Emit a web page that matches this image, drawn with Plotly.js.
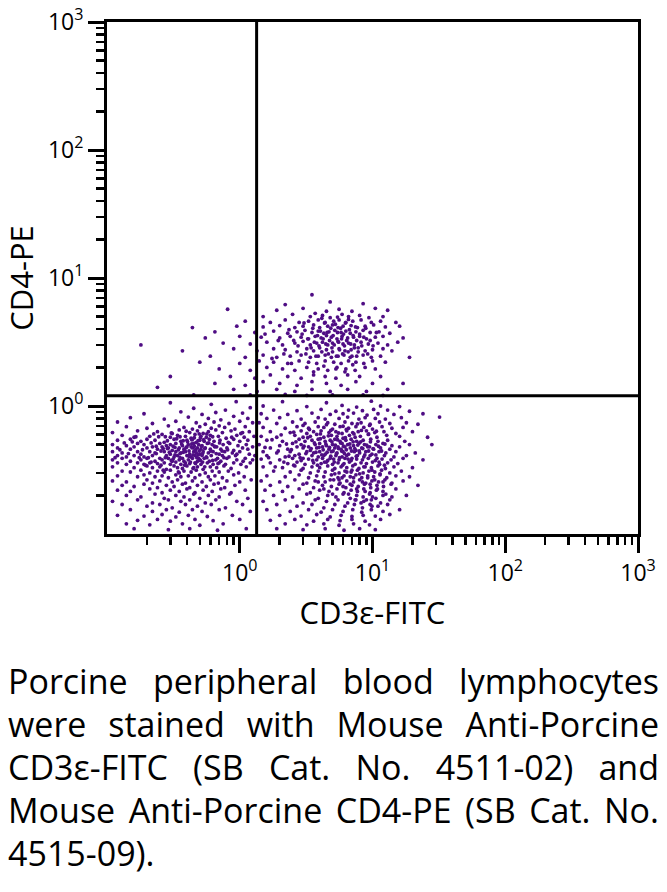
<!DOCTYPE html>
<html>
<head>
<meta charset="utf-8">
<script src="https://cdn.plot.ly/plotly-3.0.1.min.js"></script>
<style>
html,body{margin:0;padding:0;background:#fff;}
#chart{position:absolute;left:0;top:0;width:667px;height:640px;}
#caption{position:absolute;left:8px;top:660px;width:651px;font-family:'Open Sans',sans-serif;font-size:34px;line-height:43px;color:#000;}
#caption .j{text-align:justify;text-align-last:justify;}
#caption .l{text-align:left;}
</style>
</head>
<body>
<div id="chart"></div>
<div id="caption">
<div class="j">Porcine peripheral blood lymphocytes</div>
<div class="j">were stained with Mouse Anti-Porcine</div>
<div class="j">CD3ε-FITC (SB Cat. No. 4511-02) and</div>
<div class="j">Mouse Anti-Porcine CD4-PE (SB Cat. No.</div>
<div class="l">4515-09).</div>
</div>
<script>
// Axis titles and ticks
const xTitle = 'CD3ε-FITC';
const yTitle = 'CD4-PE';
const tickVals = [1, 10, 100, 1000];
const tickText = ['10<sup>0</sup>', '10<sup>1</sup>', '10<sup>2</sup>', '10<sup>3</sup>'];
// Quadrant gate positions
const gateCD3 = 1.34;
const gateCD4 = 1.2;

// Population CD3- CD4- : [CD3 FITC, CD4 PE]
const popNegNeg = [
[0.3,1.06],[0.61,1.03],[0.94,1.08],
[0.45,0.96],[0.78,0.93],[1.2,0.97],
[0.19,0.87],[0.36,0.9],[0.52,0.86],[0.66,0.89],[1.05,0.88],
[0.15,0.81],[0.27,0.79],[0.41,0.82],[0.58,0.8],[0.72,0.78],[0.9,0.83],[1.15,0.8],
[0.12,0.75],[0.22,0.73],[0.33,0.76],[0.47,0.74],[0.55,0.72],[0.64,0.75],[0.83,0.73],[1.0,0.76],[1.25,0.74],
[0.14,0.69],[0.2,0.67],[0.29,0.7],[0.38,0.68],[0.44,0.66],[0.5,0.69],[0.61,0.67],[0.7,0.7],[0.77,0.68],[0.92,0.66],[1.1,0.69],
[0.11,0.62],[0.17,0.64],[0.24,0.63],[0.31,0.61],[0.35,0.65],[0.42,0.62],[0.48,0.64],[0.53,0.61],[0.58,0.63],[0.66,0.65],[0.74,0.62],[0.86,0.64],[1.02,0.61],[1.18,0.63],
[0.13,0.59],[0.16,0.57],[0.21,0.58],[0.26,0.6],[0.3,0.57],[0.34,0.59],[0.39,0.58],[0.43,0.56],[0.46,0.6],[0.51,0.58],[0.56,0.57],[0.6,0.59],[0.69,0.58],[0.79,0.56],[0.95,0.59],[1.08,0.57],[1.28,0.58],
[0.12,0.54],[0.15,0.55],[0.18,0.53],[0.2,0.55],[0.23,0.54],[0.27,0.52],[0.32,0.55],[0.36,0.53],[0.4,0.54],[0.44,0.55],[0.47,0.52],[0.5,0.54],[0.54,0.53],[0.59,0.55],[0.64,0.53],[0.71,0.54],[0.82,0.52],[0.9,0.55],[1.0,0.53],[1.15,0.54],
[0.11,0.5],[0.14,0.49],[0.17,0.51],[0.19,0.5],[0.22,0.48],[0.25,0.51],[0.28,0.49],[0.3,0.5],[0.33,0.51],[0.37,0.49],[0.41,0.5],[0.43,0.48],[0.45,0.51],[0.49,0.5],[0.52,0.49],[0.57,0.51],[0.62,0.5],[0.67,0.48],[0.75,0.5],[0.84,0.51],[0.97,0.49],[1.12,0.5],[1.25,0.48],
[0.12,0.47],[0.15,0.46],[0.16,0.48],[0.2,0.47],[0.24,0.46],[0.26,0.48],[0.29,0.47],[0.31,0.45],[0.35,0.47],[0.38,0.46],[0.4,0.48],[0.44,0.47],[0.46,0.45],[0.48,0.47],[0.51,0.46],[0.55,0.47],[0.6,0.46],[0.65,0.48],[0.72,0.46],[0.8,0.47],[0.9,0.45],[1.05,0.47],
[0.11,0.44],[0.13,0.43],[0.17,0.44],[0.18,0.42],[0.21,0.44],[0.23,0.43],[0.27,0.44],[0.3,0.42],[0.33,0.44],[0.36,0.43],[0.39,0.44],[0.42,0.42],[0.45,0.44],[0.47,0.43],[0.5,0.42],[0.53,0.44],[0.58,0.43],[0.63,0.44],[0.7,0.42],[0.77,0.44],[0.88,0.43],[1.0,0.44],[1.18,0.42],
[0.12,0.41],[0.14,0.4],[0.16,0.41],[0.19,0.4],[0.22,0.41],[0.25,0.39],[0.28,0.41],[0.32,0.4],[0.34,0.41],[0.37,0.39],[0.4,0.41],[0.43,0.4],[0.46,0.41],[0.49,0.39],[0.52,0.41],[0.56,0.4],[0.61,0.41],[0.68,0.39],[0.74,0.41],[0.83,0.4],[0.93,0.41],[1.1,0.39],[1.3,0.41],
[0.11,0.38],[0.13,0.39],[0.15,0.37],[0.18,0.38],[0.2,0.39],[0.23,0.37],[0.26,0.38],[0.29,0.39],[0.31,0.37],[0.35,0.38],[0.38,0.37],[0.41,0.38],[0.44,0.39],[0.48,0.37],[0.5,0.38],[0.54,0.39],[0.59,0.37],[0.66,0.38],[0.72,0.37],[0.8,0.39],[0.95,0.38],[1.06,0.37],
[0.12,0.36],[0.14,0.35],[0.17,0.36],[0.19,0.35],[0.21,0.36],[0.24,0.355],[0.27,0.36],[0.3,0.35],[0.33,0.365],[0.36,0.35],[0.39,0.36],[0.42,0.355],[0.46,0.36],[0.51,0.35],[0.57,0.36],[0.63,0.35],[0.7,0.36],[0.78,0.35],[0.9,0.36],[1.02,0.35],[1.2,0.36],
[0.11,0.335],[0.16,0.33],[0.2,0.34],[0.22,0.33],[0.25,0.335],[0.28,0.32],[0.32,0.34],[0.34,0.33],[0.37,0.325],[0.4,0.34],[0.45,0.33],[0.48,0.335],[0.53,0.32],[0.6,0.335],[0.67,0.33],[0.76,0.34],[0.86,0.325],[1.12,0.335],
[0.13,0.31],[0.15,0.305],[0.18,0.315],[0.21,0.3],[0.24,0.31],[0.27,0.305],[0.3,0.315],[0.35,0.3],[0.38,0.31],[0.43,0.305],[0.47,0.315],[0.55,0.3],[0.62,0.31],[0.7,0.305],[0.82,0.31],[0.98,0.3],
[0.12,0.285],[0.17,0.28],[0.19,0.29],[0.23,0.28],[0.26,0.285],[0.29,0.275],[0.33,0.29],[0.36,0.28],[0.41,0.285],[0.46,0.275],[0.5,0.29],[0.58,0.28],[0.65,0.285],[0.74,0.275],[0.9,0.29],[1.08,0.28],
[0.11,0.26],[0.14,0.255],[0.2,0.265],[0.22,0.25],[0.25,0.26],[0.31,0.255],[0.34,0.265],[0.39,0.25],[0.44,0.26],[0.52,0.255],[0.6,0.265],[0.69,0.25],[0.8,0.26],[1.0,0.255],[1.22,0.265],
[0.13,0.24],[0.16,0.235],[0.19,0.245],[0.24,0.23],[0.28,0.24],[0.32,0.235],[0.37,0.245],[0.42,0.23],[0.48,0.24],[0.56,0.235],[0.64,0.245],[0.77,0.23],[0.92,0.24],
[0.12,0.22],[0.15,0.215],[0.21,0.225],[0.26,0.21],[0.3,0.22],[0.35,0.215],[0.4,0.225],[0.46,0.21],[0.53,0.22],[0.62,0.215],[0.72,0.225],[0.86,0.21],[1.1,0.22],
[0.14,0.2],[0.18,0.195],[0.23,0.205],[0.27,0.19],[0.33,0.2],[0.38,0.195],[0.45,0.205],[0.5,0.19],[0.58,0.2],[0.7,0.195],[0.84,0.205],[1.15,0.19],
[0.11,0.18],[0.17,0.185],[0.22,0.175],[0.29,0.185],[0.36,0.18],[0.42,0.185],[0.55,0.175],[0.66,0.185],[0.95,0.18],
[0.13,0.17],[0.2,0.165],[0.25,0.17],[0.31,0.16],[0.39,0.17],[0.48,0.165],[0.61,0.17],[0.78,0.16],[1.05,0.17],
[0.15,0.155],[0.22,0.15],[0.28,0.155],[0.35,0.148],[0.44,0.155],[0.52,0.15],[0.7,0.155],[1.2,0.15],
[0.12,0.14],[0.19,0.138],[0.26,0.142],[0.33,0.136],[0.41,0.14],[0.57,0.137],[0.88,0.14],
[0.17,0.128],[0.24,0.13],[0.3,0.126],[0.46,0.13],[0.63,0.127],[1.0,0.13],
[0.14,0.12],[0.21,0.118],[0.37,0.12],[0.5,0.117],[0.75,0.12],
[0.16,0.11],[0.29,0.108],[0.42,0.11],[0.68,0.107],[1.12,0.11],
[0.155,0.525],[0.185,0.455],[0.205,0.395],[0.215,0.515],[0.235,0.425],[0.245,0.575],[0.255,0.345],[0.265,0.465],[0.275,0.395],[0.285,0.535],
[0.295,0.435],[0.305,0.375],[0.315,0.485],[0.325,0.415],[0.335,0.555],[0.345,0.455],[0.355,0.395],[0.365,0.505],[0.375,0.435],[0.385,0.345],
[0.395,0.475],[0.405,0.525],[0.415,0.445],[0.425,0.365],[0.435,0.505],[0.445,0.415],[0.455,0.565],[0.465,0.455],[0.475,0.395],[0.485,0.535],
[0.495,0.445],[0.505,0.375],[0.515,0.485],[0.525,0.425],[0.535,0.545],[0.545,0.465],[0.565,0.395],[0.585,0.515],[0.605,0.445],[0.625,0.375],
[0.645,0.485],[0.175,0.395],[0.165,0.575],[0.145,0.425],[0.135,0.515],[0.195,0.345],[0.225,0.605],[0.265,0.315],[0.305,0.615],[0.345,0.305],
[0.395,0.635],[0.445,0.325],[0.495,0.605],[0.545,0.335],[0.665,0.425],[0.705,0.515],[0.735,0.445],[0.685,0.355],[0.76,0.395],[0.81,0.455],
[0.255,0.445],[0.285,0.465],[0.325,0.475],[0.355,0.425],[0.385,0.455],[0.415,0.405],[0.455,0.485],[0.485,0.415],[0.235,0.485],[0.215,0.365],
[0.275,0.575],[0.355,0.575],[0.435,0.545],[0.505,0.565],[0.565,0.605],[0.625,0.575],[0.315,0.385],[0.375,0.535],[0.465,0.355],[0.525,0.365],
[0.125,0.455],[0.115,0.395],[0.95,0.42],[1.15,0.46],[1.25,0.38],[1.05,0.62],[0.87,0.57]
];

// Population CD3+ CD4- : [CD3 FITC, CD4 PE]
const popPosNeg = [
[2.1,1.08],[4.5,1.06],[9.8,1.09],
[1.5,1.0],[3.2,0.99],[5.9,1.01],[7.6,0.98],[11.5,1.0],[16,0.99],
[1.8,0.93],[2.7,0.92],[4.1,0.94],[5.3,0.91],[6.6,0.93],[8.4,0.92],[10.2,0.94],[13,0.93],[19,0.91],
[1.45,0.87],[2.3,0.86],[3.5,0.88],[4.8,0.86],[6.0,0.87],[7.2,0.88],[9.1,0.85],[11,0.87],[14.5,0.86],[24,0.87],
[1.6,0.8],[2.0,0.81],[2.9,0.79],[3.9,0.81],[4.4,0.79],[5.6,0.8],[6.5,0.82],[7.9,0.79],[8.8,0.81],[10.5,0.8],[12.5,0.79],[16.5,0.81],[32,0.82],
[1.4,0.74],[1.9,0.73],[2.5,0.75],[3.1,0.73],[3.7,0.75],[4.6,0.74],[5.2,0.72],[6.2,0.75],[7.0,0.73],[8.2,0.74],[9.6,0.72],[11.3,0.75],[13.5,0.73],[18,0.74],[22,0.72],
[1.5,0.68],[2.2,0.67],[2.7,0.69],[3.3,0.67],[3.9,0.69],[4.3,0.68],[5.0,0.66],[5.7,0.69],[6.6,0.67],[7.5,0.69],[8.6,0.68],[10.0,0.66],[11.8,0.69],[14,0.67],[17,0.68],
[1.7,0.63],[2.4,0.62],[2.9,0.64],[3.2,0.61],[3.6,0.63],[4.1,0.64],[4.7,0.62],[5.3,0.63],[5.9,0.61],[6.4,0.64],[7.1,0.62],[7.8,0.63],[9.0,0.64],[10.4,0.62],[12.2,0.63],[15,0.61],[20,0.63],
[1.45,0.58],[1.9,0.57],[2.6,0.59],[3.0,0.57],[3.4,0.58],[3.8,0.6],[4.3,0.57],[4.9,0.59],[5.4,0.58],[6.0,0.56],[6.7,0.59],[7.4,0.57],[8.1,0.58],[9.3,0.6],[10.8,0.57],[12.8,0.59],[16,0.58],[26,0.57],
[1.6,0.54],[2.1,0.53],[2.8,0.55],[3.1,0.53],[3.5,0.54],[3.9,0.55],[4.4,0.53],[4.8,0.54],[5.2,0.55],[5.7,0.53],[6.3,0.54],[6.9,0.55],[7.6,0.53],[8.5,0.54],[9.7,0.55],[11,0.53],[13,0.54],[17.5,0.53],
[1.4,0.5],[2.0,0.49],[2.5,0.51],[2.9,0.5],[3.3,0.48],[3.7,0.5],[4.0,0.51],[4.5,0.49],[5.0,0.5],[5.5,0.48],[5.9,0.51],[6.5,0.5],[7.2,0.49],[7.9,0.51],[8.7,0.5],[9.5,0.48],[10.6,0.5],[12,0.51],[14,0.49],[19,0.5],[28,0.5],
[1.7,0.47],[2.3,0.46],[2.7,0.48],[3.0,0.47],[3.4,0.45],[3.8,0.47],[4.2,0.48],[4.7,0.46],[5.2,0.47],[5.8,0.46],[6.2,0.48],[6.8,0.47],[7.5,0.45],[8.3,0.47],[9.2,0.48],[10.2,0.46],[11.5,0.47],[13.5,0.46],[16,0.48],
[1.5,0.44],[1.9,0.43],[2.4,0.44],[2.8,0.42],[3.2,0.44],[3.6,0.43],[4.0,0.44],[4.4,0.42],[4.9,0.44],[5.4,0.43],[6.0,0.44],[6.6,0.42],[7.3,0.44],[8.0,0.43],[8.9,0.44],[9.9,0.42],[11.2,0.44],[12.6,0.43],[15,0.44],[21,0.43],
[1.6,0.41],[2.2,0.4],[2.6,0.41],[3.0,0.39],[3.5,0.41],[3.9,0.4],[4.3,0.41],[4.8,0.39],[5.3,0.41],[5.9,0.4],[6.4,0.41],[7.0,0.39],[7.7,0.41],[8.6,0.4],[9.6,0.41],[10.8,0.39],[12.3,0.41],[14.5,0.4],[18,0.41],
[1.45,0.385],[2.0,0.38],[2.5,0.39],[2.9,0.375],[3.3,0.385],[3.8,0.38],[4.2,0.39],[4.6,0.375],[5.1,0.385],[5.6,0.38],[6.2,0.39],[6.9,0.375],[7.6,0.385],[8.4,0.38],[9.3,0.39],[10.5,0.375],[11.8,0.385],[13.8,0.38],[17,0.39],[24,0.38],
[1.7,0.36],[2.3,0.355],[2.7,0.365],[3.1,0.35],[3.6,0.36],[4.1,0.355],[4.5,0.365],[5.0,0.35],[5.5,0.36],[6.1,0.355],[6.7,0.365],[7.4,0.35],[8.2,0.36],[9.0,0.355],[10.0,0.365],[11.3,0.35],[13,0.36],[15.5,0.355],
[1.5,0.335],[2.1,0.33],[2.6,0.34],[3.0,0.325],[3.5,0.335],[4.0,0.33],[4.6,0.34],[5.2,0.325],[5.8,0.335],[6.4,0.33],[7.1,0.34],[7.9,0.325],[8.8,0.335],[9.8,0.33],[11,0.34],[12.5,0.325],[14.5,0.335],[20,0.33],
[1.8,0.31],[2.4,0.305],[2.9,0.315],[3.4,0.3],[3.9,0.31],[4.4,0.305],[5.0,0.315],[5.6,0.3],[6.2,0.31],[6.9,0.305],[7.7,0.315],[8.5,0.3],[9.4,0.31],[10.4,0.305],[11.7,0.315],[13.5,0.3],[16.5,0.31],
[1.6,0.285],[2.2,0.28],[2.8,0.29],[3.3,0.275],[3.8,0.285],[4.3,0.28],[4.9,0.29],[5.5,0.275],[6.1,0.285],[6.8,0.28],[7.5,0.29],[8.3,0.275],[9.2,0.285],[10.2,0.28],[11.4,0.29],[12.8,0.275],[15,0.285],[19,0.28],
[1.45,0.26],[2.0,0.255],[2.6,0.265],[3.2,0.25],[3.7,0.26],[4.4,0.255],[5.1,0.265],[5.7,0.25],[6.4,0.26],[7.2,0.255],[8.0,0.265],[8.9,0.25],[9.9,0.26],[11.1,0.255],[12.4,0.265],[14,0.25],[17,0.26],
[1.7,0.24],[2.3,0.235],[3.0,0.245],[3.6,0.23],[4.2,0.24],[4.9,0.235],[5.6,0.245],[6.3,0.23],[7.0,0.24],[7.8,0.235],[8.7,0.245],[9.7,0.23],[10.8,0.24],[12.1,0.235],[13.8,0.245],[22,0.24],
[1.55,0.22],[2.1,0.215],[2.8,0.225],[3.4,0.21],[4.0,0.22],[4.7,0.215],[5.4,0.225],[6.1,0.21],[6.9,0.22],[7.7,0.215],[8.6,0.225],[9.6,0.21],[10.7,0.22],[12,0.215],[15,0.225],
[1.8,0.2],[2.5,0.195],[3.2,0.205],[3.9,0.19],[4.6,0.2],[5.3,0.195],[6.0,0.205],[6.8,0.19],[7.6,0.2],[8.5,0.195],[9.5,0.205],[10.6,0.19],[12,0.2],[14,0.195],[18,0.2],
[1.5,0.18],[2.2,0.185],[3.0,0.175],[3.7,0.185],[4.5,0.18],[5.5,0.185],[6.5,0.175],[7.5,0.185],[8.6,0.18],[9.8,0.185],[11.5,0.175],[13.5,0.185],
[1.9,0.17],[2.7,0.165],[3.5,0.17],[4.3,0.16],[5.2,0.17],[6.2,0.165],[7.3,0.17],[8.4,0.16],[9.6,0.17],[11,0.165],[13,0.17],
[1.6,0.155],[2.4,0.15],[3.3,0.155],[4.1,0.148],[5.0,0.155],[6.0,0.15],[7.1,0.155],[8.3,0.148],[9.8,0.155],[12,0.15],[16,0.155],
[2.0,0.14],[2.9,0.138],[3.8,0.142],[4.8,0.136],[5.8,0.14],[7.0,0.137],[8.5,0.14],[10.5,0.138],[13.5,0.142],
[1.7,0.128],[2.6,0.13],[3.6,0.126],[4.6,0.13],[5.7,0.127],[7.0,0.13],[8.8,0.126],[11.5,0.13],
[2.2,0.12],[3.2,0.118],[4.3,0.12],[5.6,0.117],[7.2,0.12],[9.5,0.118],
[1.9,0.11],[3.0,0.108],[4.4,0.11],[6.1,0.107],[8.0,0.11],[10.5,0.108],
[2.45,0.455],[2.65,0.525],[2.85,0.395],[3.05,0.485],[3.15,0.425],[3.25,0.565],[3.45,0.465],[3.55,0.375],[3.65,0.515],[3.75,0.435],
[3.85,0.345],[3.95,0.475],[4.05,0.555],[4.15,0.415],[4.25,0.455],[4.35,0.365],[4.45,0.505],[4.55,0.435],[4.65,0.585],[4.75,0.475],
[4.85,0.405],[4.95,0.525],[5.05,0.445],[5.15,0.365],[5.25,0.495],[5.35,0.425],[5.45,0.545],[5.55,0.465],[5.65,0.395],[5.75,0.515],
[5.85,0.445],[5.95,0.345],[6.05,0.485],[6.15,0.425],[6.25,0.565],[6.35,0.455],[6.55,0.385],[6.75,0.505],[6.95,0.445],[7.15,0.525],
[7.35,0.465],[7.55,0.405],[7.75,0.495],[7.95,0.445],[8.15,0.525],[8.45,0.465],[8.75,0.415],[9.05,0.495],[9.35,0.445],[9.65,0.525],
[10.1,0.465],[10.6,0.415],[11.1,0.485],[11.7,0.445],[12.4,0.505],
[5.2,0.295],[5.6,0.265],[6.0,0.235],[6.4,0.305],[6.8,0.245],[7.2,0.275],[7.6,0.225],[8.0,0.295],[8.4,0.255],[8.8,0.215],
[9.2,0.275],[9.6,0.245],[10.0,0.195],[10.4,0.265],[10.9,0.225],[11.4,0.295],[12.0,0.255],[12.6,0.205],[6.6,0.205],[7.4,0.185],
[8.2,0.175],[9.0,0.185],[9.9,0.165],[5.9,0.275],[7.0,0.315],[8.6,0.335],[9.9,0.315],[11.2,0.365],[12.3,0.345],[4.8,0.265],
[4.3,0.225],[3.9,0.255],[5.0,0.205],
[2.55,0.625],[3.35,0.655],[4.05,0.605],[4.85,0.645],[5.55,0.615],[6.35,0.655],[7.25,0.605],[8.25,0.645],[9.35,0.605],[10.7,0.635],
[3.0,0.705],[4.5,0.715],[6.0,0.695],[7.7,0.725],[9.5,0.705],
[1.55,0.475],[1.65,0.395],[1.75,0.545],[1.85,0.335],[1.95,0.445],[2.05,0.595],[2.15,0.365],[2.25,0.505],[2.35,0.405],[2.55,0.345]
];

// Population CD3+ CD4+ : [CD3 FITC, CD4 PE]
const popPosPos = [
[3.5,7.4],
[4.8,6.5],[8.5,6.3],[2.2,6.2],
[0.81,5.7],[1.9,5.6],[3.0,5.8],[5.6,5.7],[7.0,5.5],[10.5,5.8],[13,5.6],
[1.5,5.0],[2.5,5.2],[3.4,5.0],[4.2,5.1],[4.8,4.9],[5.9,5.2],[6.6,5.0],[8.0,5.1],[9.4,4.9],[12,5.0],
[1.1,4.6],[1.7,4.5],[2.2,4.7],[2.8,4.5],[3.3,4.6],[3.9,4.7],[4.4,4.5],[5.1,4.6],[5.6,4.7],[6.3,4.5],[7.1,4.6],[8.2,4.7],[9.8,4.5],[11.5,4.6],[15,4.5],
[0.44,4.1],[0.95,4.2],[1.5,4.15],[2.0,4.25],[2.6,4.1],[3.0,4.2],[3.6,4.3],[4.0,4.1],[4.6,4.2],[5.0,4.3],[5.5,4.1],[6.0,4.2],[6.9,4.25],[7.7,4.1],[8.8,4.2],[10.2,4.3],[12.5,4.15],[16,4.2],
[0.65,3.8],[1.3,3.75],[1.8,3.85],[2.3,3.7],[2.7,3.8],[3.1,3.9],[3.5,3.75],[3.9,3.85],[4.3,3.7],[4.7,3.8],[5.2,3.9],[5.8,3.75],[6.3,3.85],[6.8,3.7],[7.5,3.8],[8.5,3.9],[9.6,3.75],[11.2,3.8],[13.5,3.7],
[0.55,3.4],[1.0,3.5],[1.45,3.45],[2.0,3.4],[2.4,3.5],[2.9,3.45],[3.3,3.35],[3.7,3.5],[4.1,3.4],[4.5,3.55],[4.9,3.45],[5.4,3.35],[5.9,3.5],[6.5,3.4],[7.2,3.45],[8.0,3.5],[9.0,3.35],[10.5,3.45],[12,3.5],[17,3.4],
[0.18,3.0],[0.75,3.1],[1.2,3.05],[1.6,3.15],[2.1,3.0],[2.6,3.1],[3.0,3.2],[3.4,3.0],[3.8,3.1],[4.2,3.15],[4.6,3.0],[5.0,3.1],[5.5,3.2],[6.0,3.05],[6.6,3.1],[7.3,3.0],[8.2,3.15],[9.3,3.05],[11,3.1],[13,3.0],[15.5,3.15],
[0.37,2.7],[0.9,2.8],[1.35,2.7],[1.8,2.8],[2.2,2.75],[2.7,2.65],[3.2,2.8],[3.6,2.7],[4.0,2.85],[4.5,2.75],[5.0,2.65],[5.6,2.8],[6.2,2.7],[6.9,2.75],[7.8,2.85],[8.8,2.7],[10,2.75],[12,2.8],[14,2.7],
[0.6,2.45],[1.1,2.4],[1.5,2.5],[1.9,2.4],[2.4,2.45],[2.9,2.5],[3.4,2.4],[3.9,2.45],[4.4,2.5],[4.9,2.4],[5.5,2.45],[6.1,2.5],[6.8,2.4],[7.6,2.45],[8.5,2.5],[9.8,2.4],[11.5,2.45],[19,2.4],
[0.5,2.2],[1.0,2.15],[1.4,2.25],[1.8,2.2],[2.3,2.15],[2.8,2.25],[3.3,2.2],[3.8,2.15],[4.4,2.25],[5.1,2.2],[5.8,2.15],[6.6,2.25],[7.5,2.2],[8.6,2.15],[10,2.25],[12.5,2.2],
[0.7,1.95],[1.2,1.9],[1.6,2.0],[2.1,1.95],[2.6,1.9],[3.2,2.0],[3.9,1.95],[4.6,1.9],[5.4,2.0],[6.3,1.95],[7.4,1.9],[8.8,2.0],[10.5,1.95],
[0.3,1.7],[0.85,1.7],[1.3,1.65],[1.7,1.75],[2.3,1.7],[2.9,1.65],[3.6,1.75],[4.4,1.7],[5.3,1.65],[6.5,1.75],[8.0,1.7],[11.5,1.7],
[0.65,1.5],[1.1,1.45],[1.5,1.55],[2.0,1.5],[2.7,1.45],[3.5,1.55],[4.5,1.5],[5.8,1.45],[7.5,1.55],[10,1.5],[17,1.5],
[0.24,1.4],[0.9,1.35],[1.35,1.3],[1.9,1.35],[2.6,1.3],[3.5,1.35],[4.8,1.3],[6.5,1.35],[9,1.3],[13,1.35],
[0.45,1.22],[1.2,1.22],[2.2,1.23],[3.2,1.21],[5.0,1.22],[8.5,1.22],[12,1.21],
[2.55,3.25],[2.75,2.95],[2.95,3.65],[3.15,2.55],[3.25,3.35],[3.45,2.85],[3.55,4.05],[3.65,3.15],[3.75,2.45],[3.85,3.55],
[3.95,2.95],[4.05,3.85],[4.15,2.65],[4.25,3.35],[4.35,4.45],[4.45,3.05],[4.55,3.75],[4.65,2.55],[4.75,3.25],[4.85,4.05],
[4.95,2.85],[5.05,3.55],[5.15,3.0],[5.25,4.35],[5.35,2.45],[5.45,3.75],[5.55,3.15],[5.65,2.75],[5.75,4.05],[5.85,3.35],
[5.95,2.55],[6.05,3.65],[6.15,2.95],[6.25,4.45],[6.4,3.25],[6.55,2.65],[6.7,3.95],[6.85,3.05],[7.0,2.45],[7.15,3.55],
[7.3,2.85],[7.45,4.15],[7.6,3.25],[7.8,2.65],[8.0,3.65],[8.3,2.95],[8.6,3.45],[8.9,4.05],[9.2,2.55],[9.6,3.25],
[10.1,2.95],[10.7,3.75],[2.35,3.95],[2.15,2.55],[1.95,3.25],[1.75,2.35],[1.55,3.65],[2.45,2.15],[3.05,4.45],[4.15,4.85],
[5.45,4.95],[6.6,4.75],[3.7,5.3],[4.5,5.5],[5.3,1.95],[6.2,1.85],[7.1,2.1],[3.6,1.85],[4.3,2.05]
];

const allPops = popNegNeg.concat(popPosNeg, popPosPos);
const xs = allPops.map(p => p[0]);
const ys = allPops.map(p => p[1]);

const minorVals = [];
[0.1, 1, 10, 100].forEach(d => { for (let k = 2; k <= 9; k++) minorVals.push(+(k * d).toPrecision(3)); });

const FONT = "'Open Sans', sans-serif";
const traces = [
  {
    type: 'scatter', mode: 'markers', x: xs, y: ys,
    marker: {size: 3.8, color: '#4f0d84', line: {width: 0}},
    hoverinfo: 'skip', showlegend: false
  },
  {
    type: 'scatter', mode: 'lines', x: [gateCD3, gateCD3], y: [0.1, 1000],
    line: {color: '#000', width: 3}, hoverinfo: 'skip', showlegend: false
  },
  {
    type: 'scatter', mode: 'lines', x: [0.1, 1000], y: [gateCD4, gateCD4],
    line: {color: '#000', width: 3}, hoverinfo: 'skip', showlegend: false
  }
];

function axis(titleText, standoff) {
  return {
    type: 'log', range: [-1, 3], autorange: false,
    showline: true, linecolor: '#000', linewidth: 3, mirror: true,
    showgrid: false, zeroline: false,
    ticks: 'outside', ticklen: 16, tickwidth: 3, tickcolor: '#000',
    tickmode: 'array', tickvals: tickVals, ticktext: tickText,
    tickfont: {family: FONT, size: 23, color: '#000'},
    minor: {tickmode: 'array', tickvals: minorVals, ticks: 'outside', ticklen: 8, tickwidth: 2.5, tickcolor: '#000', showgrid: false},
    title: {text: titleText, font: {family: FONT, size: 31, color: '#000'}, standoff: standoff},
    automargin: false
  };
}

const layout = {
  width: 667, height: 640,
  margin: {l: 107, r: 29, t: 22, b: 106},
  paper_bgcolor: '#fff', plot_bgcolor: '#fff',
  xaxis: axis(xTitle, 16),
  yaxis: axis(yTitle, 12),
  showlegend: false,
  font: {family: FONT, color: '#000'}
};

Plotly.newPlot('chart', traces, layout, {staticPlot: true, displayModeBar: false});
</script>
</body>
</html>
